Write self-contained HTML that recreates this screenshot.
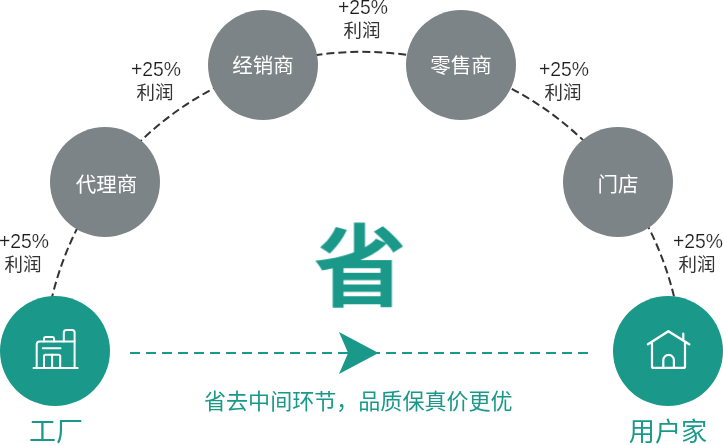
<!DOCTYPE html>
<html lang="zh-CN">
<head>
<meta charset="utf-8">
<title>省去中间环节</title>
<style>
html,body{margin:0;padding:0;background:#fff;}
body{width:723px;height:445px;overflow:hidden;position:relative;font-family:"Liberation Sans","Noto Sans CJK SC",sans-serif;}
#stage{position:absolute;left:0;top:0;width:723px;height:445px;overflow:hidden;background:#fff;}
svg{position:absolute;left:0;top:0;}
.node{position:absolute;border-radius:50%;background:#7d8488;color:#fff;font-size:20.5px;font-weight:400;text-align:center;white-space:nowrap;}
.teal{background:#1a998a;}
.node,.profit,.cap,.big,.slogan{will-change:transform;}
.profit{position:absolute;width:80px;text-align:center;color:#333;white-space:nowrap;}
.profit .p{display:block;font-size:19px;line-height:22px;height:22px;position:relative;top:0.5px;color:#1c1c1c;-webkit-text-stroke:0.2px #fff;left:-0.4px;transform:scale(1.02,1.07);transform-origin:50% 17.6px;}
.profit .c{display:block;font-size:18.5px;line-height:22px;height:22px;font-weight:400;position:relative;top:1.7px;left:-0.9px;}
.cap{position:absolute;color:#1a998a;font-size:26px;line-height:30px;font-weight:400;white-space:nowrap;text-align:center;}
.big{position:absolute;color:#1a998a;font-weight:700;font-size:92px;line-height:100px;white-space:nowrap;}
.slogan{position:absolute;color:#1a998a;font-size:22.05px;line-height:30px;font-weight:400;white-space:nowrap;}
</style>
</head>
<body>
<div id="stage">
<svg width="723" height="445" viewBox="0 0 723 445">
  <g fill="none" stroke="#333" stroke-width="2" stroke-dasharray="8 4">
  <path d="M 51.36 300.00 A 320.0 320.0 0 0 1 80.43 222.00" stroke-dashoffset="1.26"/>
  <path d="M 140.00 141.62 A 320.0 320.0 0 0 1 216.00 87.20" stroke-dashoffset="5.48"/>
  <path d="M 314.00 55.47 A 320.0 320.0 0 0 1 410.00 55.38" stroke-dashoffset="11.51"/>
  <path d="M 509.00 87.41 A 320.0 320.0 0 0 1 584.00 141.04" stroke-dashoffset="8.84"/>
  <path d="M 645.77 222.00 A 320.0 320.0 0 0 1 674.84 300.00" stroke-dashoffset="0.12"/>
  </g>
  <line x1="130" y1="353" x2="588" y2="353" stroke="#1a998a" stroke-width="2" stroke-dasharray="10 6"/>
  <polygon points="339,332 378.5,353 339,374 348.1,353" fill="#1a998a"/>
</svg>
<div class="node" style="left:50px;top:127px;width:110px;height:110px;line-height:116px;"><span style="position:relative;left:1.4px;">代理商</span></div>
<div class="node" style="left:208px;top:10px;width:110px;height:110px;line-height:111px;"><span style="position:relative;left:0px;">经销商</span></div>
<div class="node" style="left:406px;top:10px;width:110px;height:110px;line-height:112.6px;"><span style="position:relative;left:0px;">零售商</span></div>
<div class="node" style="left:563px;top:127px;width:110px;height:110px;line-height:116px;"><span style="position:relative;left:0px;">门店</span></div>
<div class="node teal" style="left:0px;top:296px;width:110px;height:110px;"></div>
<div class="node teal" style="left:613px;top:296px;width:110px;height:110px;"></div>
<svg width="723" height="445" viewBox="0 0 723 445" fill="none" stroke="#fff" stroke-width="1.9" stroke-linecap="round" stroke-linejoin="round">
  <g id="factory" stroke-width="2">
    <path d="M33.5 367.9 H77.7"/>
    <path d="M36.7 367.9 V344.6 a3 3 0 0 1 3 -3 H74.6"/>
    <path d="M74.6 367.9 V332.6 a2.5 2.5 0 0 0 -2.5 -2.5 H66.3 a2.5 2.5 0 0 0 -2.5 2.5 V341.6"/>
    <path d="M44 341.6 V338.7 a1.8 1.8 0 0 1 1.8 -1.8 H52.3 a1.8 1.8 0 0 1 1.8 1.8 V341.6"/>
    <path d="M42.9 348.3 H60.5"/>
    <path d="M44 367.9 V356.3 a1.5 1.5 0 0 1 1.5 -1.5 H58.7 a1.5 1.5 0 0 1 1.5 1.5 V367.9"/>
    <path d="M52.1 354.8 V367.9"/>
  </g>
  <g id="home" stroke-width="2.2">
    <path d="M648 344.3 L668.4 331.3 L689.2 344.3" stroke-width="2.5"/>
    <path d="M652 342 V366.4 a1.5 1.5 0 0 0 1.5 1.5 H683.5 a1.5 1.5 0 0 0 1.5 -1.5 V342"/>
    <path d="M683.3 333.7 V340.2"/>
    <path d="M663.3 367.9 V360.2 a5.3 5.3 0 0 1 10.6 0 V367.9"/>
  </g>
</svg>
<div class="profit" style="left:-15.7px;top:230px;"><span class="p">+25%</span><span class="c">利润</span></div>
<div class="profit" style="left:116px;top:58px;"><span class="p">+25%</span><span class="c">利润</span></div>
<div class="profit" style="left:323px;top:-4px;"><span class="p">+25%</span><span class="c">利润</span></div>
<div class="profit" style="left:524px;top:58px;"><span class="p">+25%</span><span class="c">利润</span></div>
<div class="profit" style="left:658.3px;top:230px;"><span class="p">+25%</span><span class="c">利润</span></div>
<div class="big" style="left:313.75px;top:217.6px;transform:scale(1.0135,0.975);transform-origin:45px 47px;">省</div>
<div class="slogan" style="left:203.8px;top:387.2px;">省去中间环节，品质保真价更优</div>
<div class="cap" style="left:15.5px;top:416.8px;width:80px;font-size:27px;">工厂</div>
<div class="cap" style="left:618.2px;top:416.8px;width:100px;font-size:26.2px;">用户家</div>
</div>
</body>
</html>
